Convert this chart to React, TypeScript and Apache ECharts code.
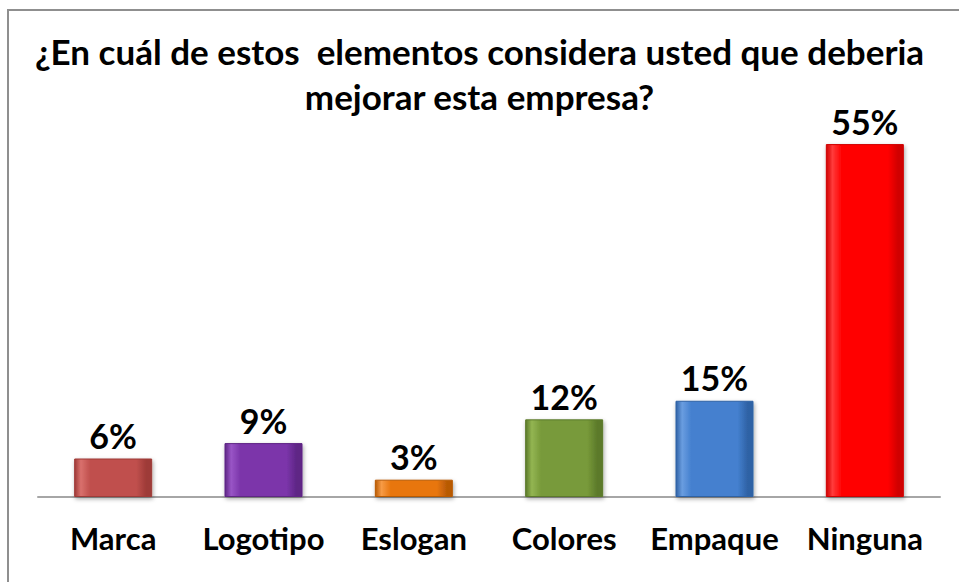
import React, { useEffect, useRef } from "react";
import * as echarts from "echarts";

const categories = ["Marca", "Logotipo", "Eslogan", "Colores", "Empaque", "Ninguna"];
const values = [6, 8.4, 2.7, 12.1, 15, 55];
const valueLabels = ["6%", "9%", "3%", "12%", "15%", "55%"];
const baseColors = ["#C0504D", "#7B35AA", "#E8760F", "#789A3A", "#4480CF", "#FF0000"];
const lightColors = ["#D9706D", "#9955C6", "#F79B45", "#93B552", "#6A9DE0", "#FF3A3A"];
const darkColors = ["#9E3A37", "#5E2585", "#B85A05", "#5C7A2A", "#2F62A5", "#D00000"];
const titleText = "¿En cuál de estos  elementos considera usted que deberia\nmejorar esta empresa?";

const FONT = "Lato, 'Open Sans', sans-serif";

export default function App() {
  const ref = useRef<HTMLDivElement>(null);
  useEffect(() => {
    if (!ref.current) return;
    const chart = echarts.init(ref.current, undefined, { renderer: "svg" });
    const data = values.map((v, i) => ({
      value: v,
      itemStyle: {
        color: new echarts.graphic.LinearGradient(0, 0, 1, 0, [
          { offset: 0, color: darkColors[i] },
          { offset: 0.08, color: lightColors[i] },
          { offset: 0.2, color: baseColors[i] },
          { offset: 0.8, color: baseColors[i] },
          { offset: 0.93, color: darkColors[i] },
          { offset: 1, color: darkColors[i] },
        ]),
        borderColor: darkColors[i],
        borderWidth: 1,
        shadowColor: "rgba(0,0,0,0.35)",
        shadowBlur: 4,
        shadowOffsetX: 1,
        shadowOffsetY: 2,
      },
      label: { formatter: valueLabels[i] },
    }));
    chart.setOption({
      animation: false,
      backgroundColor: "#ffffff",
      title: {
        text: titleText,
        left: "center",
        top: 28,
        padding: 0,
        textStyle: {
          fontFamily: FONT,
          fontWeight: "bold",
          fontSize: 35,
          lineHeight: 45,
          color: "#000000",
        },
      },
      graphic: [
        {
          type: "rect",
          shape: { x: 8, y: 10, width: 1200, height: 1200 },
          style: { fill: "none", stroke: "#8F8F8F", lineWidth: 2 },
          silent: true,
        },
      ],
      grid: { left: 38, right: 19, top: 112, bottom: 85 },
      xAxis: {
        type: "category",
        data: categories,
        axisLine: { show: true, lineStyle: { color: "#A6A6A6", width: 2 } },
        axisTick: { show: false },
        axisLabel: {
          fontFamily: FONT,
          fontWeight: "bold",
          fontSize: 31,
          color: "#000000",
          margin: 25,
          interval: 0,
        },
      },
      yAxis: {
        type: "value",
        min: 0,
        max: 60,
        show: false,
        splitLine: { show: false },
      },
      series: [
        {
          type: "bar",
          data,
          barWidth: 78,
          label: {
            show: true,
            position: "top",
            distance: 6,
            fontFamily: FONT,
            fontWeight: "bold",
            fontSize: 34,
            color: "#000000",
          },
        },
      ],
    });
    return () => chart.dispose();
  }, []);
  return (
    <div
      ref={ref}
      style={{ position: "fixed", left: 0, top: 0, width: 959, height: 582 }}
    />
  );
}
